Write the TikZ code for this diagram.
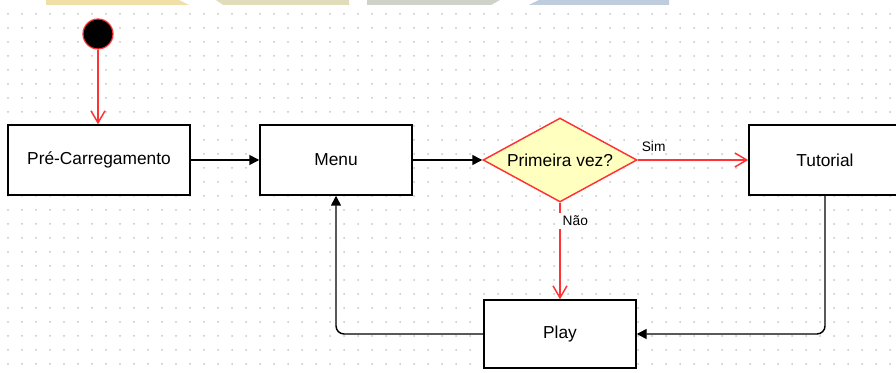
\documentclass[tikz,border=0pt]{standalone}
\usepackage{fontspec}
\setmainfont{Liberation Sans}
\usetikzlibrary{shapes.geometric,arrows.meta}
\definecolor{flowred}{HTML}{FF3333}
\definecolor{decfill}{HTML}{FFFFC0}
\definecolor{dotgray}{HTML}{C4C4C4}
\definecolor{baryellow}{HTML}{F0E0A8}
\definecolor{barolive}{HTML}{E1DDBB}
\definecolor{bargray}{HTML}{CFD2C8}
\definecolor{barblue}{HTML}{BFCCDD}

\begin{document}
\begin{tikzpicture}[x=0.75pt, y=-0.75pt, line width=1.1pt,
    state/.style={rectangle, draw=black, fill=white, minimum width=114pt, minimum height=52.5pt, inner sep=0pt, font=\fontsize{13}{15}\selectfont},
    start/.style={circle, draw=flowred, fill=black, line width=0.9pt, minimum size=22.5pt, inner sep=0pt},
    decision/.style={diamond, draw=flowred, fill=decfill, minimum width=115.5pt, minimum height=63pt, aspect=1.83, inner sep=0pt, font=\fontsize{13}{15}\selectfont},
    flow/.style={draw=black, -{Triangle[length=7.5pt,width=7.5pt]}},
    redflow/.style={draw=flowred, -{Straight Barb[length=9pt,width=10.5pt,line width=1.1pt]}},
    edgelabel/.style={font=\fontsize{10.3}{12}\selectfont, inner sep=2.5pt}]

\useasboundingbox (0,0) rectangle (896,373);

% dotted grid
\foreach \x in {8,22,...,895}
    \foreach \y in {14,28,...,372}
        \fill[dotgray] (\x,\y) circle (0.75pt);

% bars along the top edge
\fill[baryellow] (46,0) -- (179,0) -- (189,5) -- (46,5) -- cycle;
\fill[barolive] (216,0) -- (349,0) -- (349,5) -- (223,5) -- cycle;
\fill[bargray] (367,0) -- (500,0) -- (491,5) -- (367,5) -- cycle;
\fill[barblue] (539,0) -- (669,0) -- (669,5) -- (529,5) -- cycle;

% states
\node[start] (init) at (98,34) {};
\node[state, minimum width=136.5pt] (preload) at (99,160) {Pré-Carregamento};
\node[state] (menu) at (336,160) {Menu};
\node[decision] (first) at (560,160) {Primeira vez?};
\node[state] (tutorial) at (825,160) {Tutorial};
\node[state, minimum height=51pt] (play) at (560,334) {Play};

% transitions
\draw[redflow] (init) -- (init |- preload.north);
\draw[flow] (preload) -- (menu);
\draw[flow] (menu) -- (first);
\draw[redflow] (first.east) -- node[pos=0, anchor=south west, edgelabel, yshift=3pt] {Sim} (tutorial.west);
\draw[redflow] (first.south) -- node[pos=0.19, anchor=west, edgelabel, fill=white, xshift=-1pt] {Não} (play.north);
\draw[flow, rounded corners=6pt] (tutorial.south) |- (play.east);
\draw[flow, rounded corners=6pt] (play.west) -| (menu.south);
\end{tikzpicture}
\end{document}
